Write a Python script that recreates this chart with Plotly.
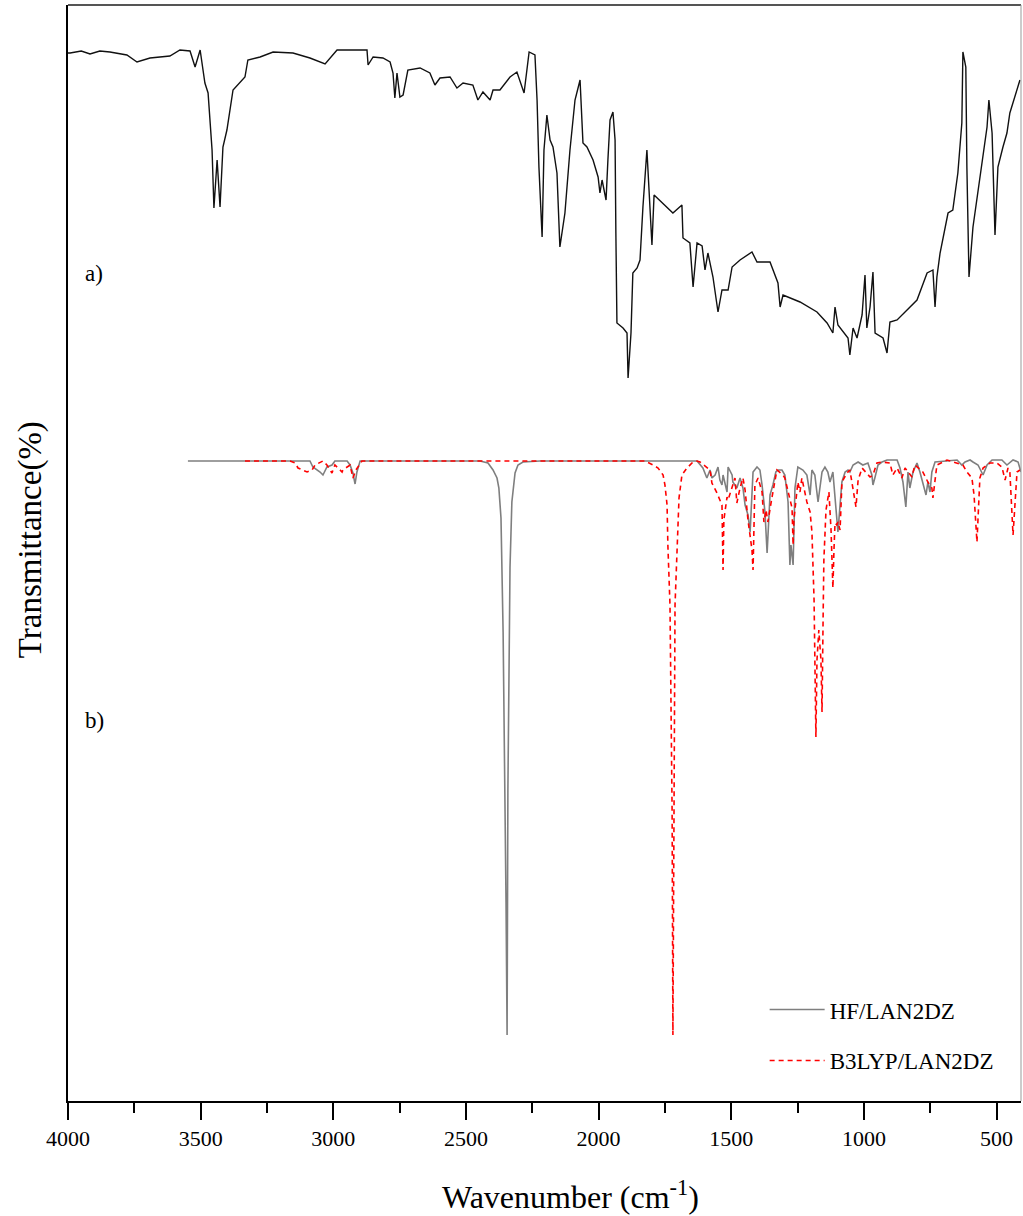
import plotly.graph_objects as go

# ---------------- data ----------------
# a) experimental spectrum: (wavenumber cm-1, transmittance, arbitrary %)
EXP_POINTS = [
    (4000, 104.7), (3992, 104.7), (3950, 104.9), (3917, 104.6), (3880, 104.9), (3842, 104.8),
    (3778, 104.5), (3740, 103.8), (3691, 104.2), (3616, 104.4), (3578, 105.0), (3540, 104.9),
    (3521, 103.3), (3502, 105.0), (3484, 101.7), (3472, 100.7), (3457, 95.0), (3450, 89.2),
    (3438, 94.0), (3427, 89.3), (3416, 95.3), (3401, 97.0), (3378, 101.0), (3352, 101.8),
    (3333, 102.3), (3322, 104.0), (3276, 104.3), (3227, 104.8), (3152, 104.7), (3088, 104.2),
    (3031, 103.6), (2986, 105.0), (2873, 105.0), (2869, 103.5), (2850, 104.3), (2813, 104.2),
    (2786, 103.8), (2775, 102.7), (2768, 100.2), (2760, 102.7), (2749, 100.3), (2737, 100.5),
    (2719, 103.0), (2673, 103.2), (2636, 102.7), (2617, 101.5), (2598, 102.2), (2560, 102.3),
    (2534, 101.2), (2511, 101.7), (2474, 101.5), (2455, 100.0), (2436, 100.8), (2409, 100.0),
    (2398, 101.0), (2372, 101.0), (2334, 102.3), (2308, 102.8), (2281, 100.7), (2262, 104.8),
    (2240, 104.5), (2232, 100.0), (2225, 93.3), (2213, 86.3), (2206, 95.0), (2195, 98.5),
    (2183, 96.0), (2172, 95.3), (2157, 92.7), (2146, 85.3), (2127, 88.7), (2108, 95.0),
    (2089, 100.0), (2070, 102.0), (2059, 95.7), (2044, 95.3), (2021, 94.0), (2002, 92.3),
    (1995, 90.7), (1987, 92.0), (1972, 90.0), (1965, 94.0), (1957, 98.0), (1946, 98.8),
    (1938, 96.0), (1935, 86.7), (1931, 77.7), (1908, 77.2), (1893, 76.7), (1889, 72.2),
    (1878, 76.7), (1871, 82.7), (1855, 83.2), (1844, 84.0), (1833, 89.3), (1818, 95.0),
    (1810, 91.3), (1799, 85.5), (1791, 90.5), (1720, 88.7), (1686, 89.5), (1682, 86.2),
    (1656, 85.7), (1644, 81.3), (1629, 85.7), (1610, 85.4), (1599, 83.0), (1588, 84.7),
    (1569, 82.3), (1550, 78.8), (1535, 81.0), (1512, 81.0), (1497, 83.3), (1467, 84.0),
    (1422, 84.8), (1403, 83.8), (1354, 83.8), (1324, 81.7), (1316, 79.3), (1305, 80.5),
    (1241, 79.8), (1177, 78.8), (1139, 77.7), (1117, 76.7), (1109, 79.3), (1098, 77.5),
    (1060, 76.2), (1053, 74.5), (1041, 77.2), (1026, 76.2), (1007, 78.5), (996, 82.5),
    (989, 77.2), (977, 79.3), (966, 82.8), (958, 76.7), (928, 76.2), (913, 74.7),
    (902, 77.8), (875, 78.0), (800, 80.0), (762, 82.7), (740, 83.0), (732, 79.3),
    (725, 82.3), (713, 84.7), (683, 88.7), (665, 89.0), (646, 92.7), (631, 97.7),
    (627, 104.8), (616, 103.3), (612, 93.3), (604, 82.3), (589, 87.3), (563, 92.3),
    (536, 97.3), (529, 100.0), (517, 96.7), (506, 86.5), (495, 93.3), (476, 95.3),
    (461, 96.7), (450, 98.7), (412, 102.0),
]

# b) computed HF/LAN2DZ spectrum
HF_POINTS = [
    (3548, 63.9), (3088, 63.9), (3077, 63.3), (3065, 63.1), (3050, 62.8), (3039, 62.5),
    (3024, 63.3), (3005, 63.5), (2994, 63.9), (2948, 63.9), (2937, 63.5), (2926, 62.7),
    (2918, 61.6), (2911, 62.8), (2899, 63.9), (2447, 63.9), (2417, 63.7), (2398, 63.0),
    (2383, 62.2), (2376, 61.2), (2368, 58.2), (2360, 46.8), (2353, 31.7), (2349, 19.8),
    (2345, 6.5), (2342, 31.0), (2334, 53.3), (2327, 59.8), (2315, 62.7), (2304, 63.5),
    (2285, 63.8), (2221, 63.9), (1629, 63.9), (1618, 63.6), (1607, 63.2), (1592, 62.2),
    (1580, 63.0), (1573, 62.2), (1561, 62.5), (1550, 63.3), (1543, 62.0), (1535, 61.5),
    (1531, 62.5), (1516, 60.8), (1512, 63.3), (1497, 62.5), (1494, 61.8), (1479, 61.2),
    (1467, 62.2), (1456, 61.2), (1448, 59.5), (1437, 58.5), (1429, 56.8), (1418, 62.8),
    (1403, 63.3), (1392, 63.0), (1384, 61.5), (1373, 58.8), (1365, 54.7), (1354, 60.5),
    (1343, 61.5), (1332, 62.8), (1324, 63.0), (1309, 63.0), (1298, 62.5), (1286, 59.8),
    (1279, 53.5), (1275, 55.5), (1267, 53.5), (1260, 61.2), (1249, 63.3), (1230, 63.0),
    (1215, 62.5), (1203, 60.5), (1196, 63.0), (1185, 62.5), (1173, 59.8), (1158, 62.8),
    (1147, 63.3), (1136, 62.8), (1128, 61.8), (1117, 62.8), (1109, 60.2), (1098, 56.8),
    (1083, 61.8), (1071, 62.8), (1060, 63.0), (1053, 62.8), (1041, 63.5), (1022, 63.8),
    (1004, 63.5), (985, 63.7), (970, 62.5), (966, 61.5), (958, 62.3), (947, 63.5),
    (932, 63.8), (913, 64.0), (875, 64.0), (864, 63.2), (853, 61.8), (842, 59.3),
    (834, 62.8), (827, 61.2), (815, 62.8), (800, 63.7), (789, 62.8), (778, 61.8),
    (766, 60.5), (759, 61.8), (751, 60.8), (744, 62.8), (732, 63.8), (649, 64.0),
    (631, 63.5), (619, 63.8), (600, 64.0), (589, 63.8), (570, 63.5), (551, 62.5),
    (536, 63.5), (517, 64.0), (480, 64.0), (461, 63.5), (450, 63.7), (438, 64.0),
    (419, 63.8), (408, 62.8),
]

# b) computed B3LYP/LAN2DZ spectrum
B3_POINTS = [
    (3333, 63.9), (3163, 63.9), (3144, 63.7), (3133, 63.2), (3099, 62.8), (3080, 63.0),
    (3069, 63.5), (3039, 63.9), (3024, 63.5), (3005, 62.7), (2994, 63.5), (2967, 62.8),
    (2964, 63.0), (2937, 63.5), (2926, 62.2), (2915, 63.0), (2892, 63.9), (1825, 63.9),
    (1795, 63.5), (1776, 63.2), (1757, 62.5), (1750, 61.5), (1742, 59.5), (1739, 55.5),
    (1731, 49.5), (1723, 28.8), (1720, 6.5), (1712, 49.5), (1705, 54.5), (1697, 60.2),
    (1686, 62.5), (1667, 63.2), (1648, 63.7), (1629, 63.9), (1618, 63.8), (1580, 63.0),
    (1573, 61.7), (1554, 60.7), (1535, 59.5), (1531, 53.0), (1528, 58.0), (1516, 60.3),
    (1512, 60.0), (1486, 62.2), (1479, 59.7), (1467, 61.2), (1456, 62.2), (1448, 61.0),
    (1437, 58.0), (1422, 55.0), (1418, 53.0), (1411, 61.5), (1399, 62.2), (1384, 60.8),
    (1377, 57.8), (1369, 59.0), (1362, 57.8), (1354, 59.3), (1347, 60.2), (1328, 63.0),
    (1305, 62.5), (1298, 62.2), (1286, 60.8), (1271, 59.2), (1267, 55.5), (1264, 58.0),
    (1249, 61.8), (1241, 60.8), (1234, 62.2), (1215, 59.8), (1203, 58.8), (1196, 56.8),
    (1188, 50.0), (1184, 42.0), (1181, 36.3), (1177, 44.0), (1170, 47.0), (1162, 44.0),
    (1158, 38.8), (1154, 48.0), (1151, 54.0), (1143, 59.0), (1132, 60.8), (1124, 57.0),
    (1120, 53.0), (1117, 51.2), (1113, 55.0), (1109, 57.7), (1102, 57.5), (1098, 57.8),
    (1090, 57.0), (1083, 61.7), (1079, 62.0), (1064, 62.7), (1053, 63.0), (1041, 61.2),
    (1030, 59.3), (1022, 62.0), (1007, 63.2), (977, 62.3), (966, 62.5), (951, 63.7),
    (932, 63.8), (902, 63.7), (891, 62.5), (875, 63.2), (857, 62.2), (845, 63.2),
    (819, 62.3), (808, 63.5), (778, 62.8), (759, 61.8), (744, 61.2), (740, 60.2),
    (732, 62.3), (725, 63.5), (687, 64.0), (627, 63.5), (612, 62.8), (593, 62.2),
    (585, 60.5), (574, 55.8), (563, 62.2), (551, 63.2), (525, 63.7), (499, 63.7),
    (480, 63.3), (468, 62.0), (457, 63.2), (450, 62.8), (438, 56.5), (423, 62.8),
    (412, 63.0),
]

EXP_WN = [p[0] for p in EXP_POINTS]
EXP_T = [p[1] for p in EXP_POINTS]
HF_WN = [p[0] for p in HF_POINTS]
HF_T = [p[1] for p in HF_POINTS]
B3_WN = [p[0] for p in B3_POINTS]
B3_T = [p[1] for p in B3_POINTS]

TICK_VALS = [4000, 3500, 3000, 2500, 2000, 1500, 1000, 500]
TICK_TEXT = ["4000", "3500", "3000", "2500", "2000", "1500", "1000", "500"]
SERIES_NAMES = ["HF/LAN2DZ", "B3LYP/LAN2DZ"]

FONT = "Liberation Serif"

fig = go.Figure()
fig.add_trace(go.Scatter(x=EXP_WN, y=EXP_T, mode="lines", showlegend=False,
                         line=dict(color="#111111", width=1.4)))
fig.add_trace(go.Scatter(x=HF_WN, y=HF_T, mode="lines", name=SERIES_NAMES[0],
                         legendgroup="g1",
                         line=dict(color="#7f7f7f", width=1.6)))
fig.add_trace(go.Scatter(x=B3_WN, y=B3_T, mode="lines", name=SERIES_NAMES[1],
                         legendgroup="g2",
                         line=dict(color="#ff0000", width=1.6, dash="5px,4px")))

fig.update_layout(
    width=1023, height=1216, autosize=False,
    margin=dict(l=68, r=2, t=5, b=115),
    paper_bgcolor="white", plot_bgcolor="white",
    font=dict(family=FONT, color="black", size=20),
    showlegend=True,
    legend=dict(x=0.731, y=0.103, xanchor="left", yanchor="top",
                bgcolor="rgba(0,0,0,0)", font=dict(family=FONT, size=23),
                tracegroupgap=18, itemwidth=55),
    xaxis=dict(range=[4000, 408], showgrid=False, zeroline=False,
               showline=True, linecolor="black", linewidth=2,
               tickmode="array", tickvals=TICK_VALS, ticktext=TICK_TEXT,
               ticks="outside", ticklen=17, tickwidth=1.5, tickcolor="black",
               minor=dict(dtick=250, tick0=4000, ticks="outside", ticklen=10,
                          tickwidth=1.5, tickcolor="black", showgrid=False),
               tickfont=dict(family=FONT, size=22)),
    yaxis=dict(range=[-0.1, 109.5], showgrid=False, zeroline=False,
               showline=True, linecolor="black", linewidth=2,
               showticklabels=False, ticks=""),
    shapes=[
        dict(type="line", xref="paper", yref="paper", x0=0, x1=1, y0=1, y1=1,
             line=dict(color="#555555", width=2)),
        dict(type="line", xref="paper", yref="paper", x0=1, x1=1, y0=0, y1=1,
             line=dict(color="#999999", width=1)),
    ],
    annotations=[
        dict(text="a)", x=0.016, y=0.755, xref="paper", yref="paper",
             xanchor="left", yanchor="middle", showarrow=False,
             font=dict(family=FONT, size=23)),
        dict(text="b)", x=0.016, y=0.347, xref="paper", yref="paper",
             xanchor="left", yanchor="middle", showarrow=False,
             font=dict(family=FONT, size=23)),
        # axis titles
        dict(text="Wavenumber (cm<sup>-1</sup>)", x=0.527, y=-0.0855,
             xref="paper", yref="paper", xanchor="center", yanchor="middle",
             showarrow=False, font=dict(family=FONT, size=32)),
        dict(text="Transmittance(%)", x=-0.0395, y=0.512,
             xref="paper", yref="paper", xanchor="center", yanchor="middle",
             textangle=-90, showarrow=False, font=dict(family=FONT, size=33)),
    ],
)

fig.write_html("out.html", config={"displayModeBar": False},
               post_script="document.body.style.margin='0px';document.body.style.overflow='hidden';")
